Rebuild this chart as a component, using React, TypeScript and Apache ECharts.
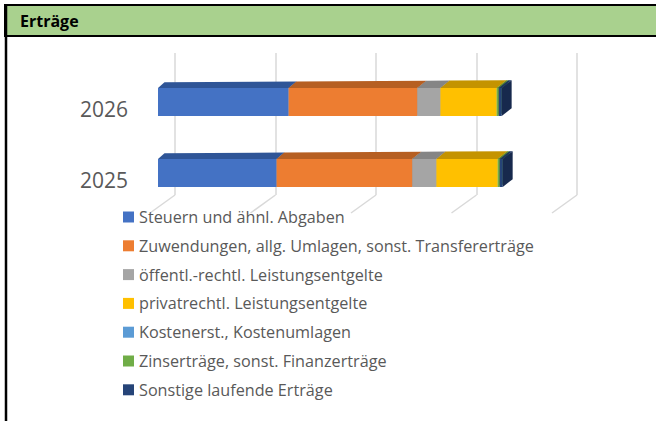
import React, { useEffect, useRef } from "react";
import * as echarts from "echarts";

// ---- data ----
const categories = ["2025", "2026"];
const seriesNames = [
  "Steuern und ähnl. Abgaben",
  "Zuwendungen, allg. Umlagen, sonst. Transfererträge",
  "öffentl.-rechtl. Leistungsentgelte",
  "privatrechtl. Leistungsentgelte",
  "Kostenerst., Kostenumlagen",
  "Zinserträge, sonst. Finanzerträge",
  "Sonstige laufende Erträge",
];
// values per category [2025, 2026] (Mio. €, estimated)
const steuern = [11.8, 13.0];
const zuwendungen = [13.5, 12.8];
const oeffentl = [2.4, 2.3];
const privat = [6.1, 5.6];
const kostenerst = [0, 0];
const zins = [0.2, 0.2];
const sonstige = [0.3, 0.3];
const axisTicks = [0, 10, 20, 30, 40];
const title = "Erträge";

const seriesValues = [steuern, zuwendungen, oeffentl, privat, kostenerst, zins, sonstige];

// ---- styles ----
const frontColors = ["#4472C4", "#ED7D31", "#A5A5A5", "#FFC000", "#5B9BD5", "#70AD47", "#264478"];
const topColors = ["#2F5597", "#B65F22", "#858585", "#C49300", "#4277A8", "#558A34", "#1C3461"];
const sideColors = ["#2A4E8C", "#A4551E", "#7A7A7A", "#B28500", "#3C6C98", "#4D7D2F", "#17294D"];
const gridColor = "#D9D9D9";
const textColor = "#595959";

export default function App() {
  const ref = useRef<HTMLDivElement>(null);

  useEffect(() => {
    if (!ref.current) return;
    const chart = echarts.init(ref.current, null, { renderer: "svg" });

    const BAR_H = 28;
    const depth = (x: number, left: number) => {
      const t = Math.max(0, x - left);
      return [6.5 + t * 0.01, 5.8 + t * 0.006];
    };

    const barSeries: any[] = seriesNames.map((name, i) => {
      const data = categories.map((_, j) => {
        let start = 0;
        for (let k = 0; k < i; k++) start += seriesValues[k][j];
        return [start, start + seriesValues[i][j], j];
      });
      return {
        type: "custom",
        name,
        xAxisIndex: 0,
        yAxisIndex: 0,
        z: 10 + i,
        itemStyle: { color: frontColors[i] },
        data,
        renderItem: (params: any, api: any) => {
          const s = api.value(0);
          const e = api.value(1);
          const c = api.value(2);
          if (e - s <= 0) return { type: "group", children: [] };
          const left = params.coordSys.x;
          const p0 = api.coord([s, c]);
          const p1 = api.coord([e, c]);
          const x0 = p0[0];
          const x1 = p1[0];
          const yT = p0[1] - BAR_H / 2;
          const yB = p0[1] + BAR_H / 2;
          const [dx0, dy0] = depth(x0, left);
          const [dx1, dy1] = depth(x1, left);
          return {
            type: "group",
            children: [
              {
                type: "polygon",
                shape: { points: [[x1, yT], [x1 + dx1, yT - dy1], [x1 + dx1, yB - dy1], [x1, yB]] },
                style: { fill: sideColors[i] },
              },
              {
                type: "rect",
                shape: { x: x0, y: yT, width: x1 - x0, height: BAR_H },
                style: { fill: frontColors[i] },
              },
              {
                type: "polygon",
                shape: { points: [[x0, yT], [x1, yT], [x1 + dx1, yT - dy1], [x0 + dx0, yT - dy0]] },
                style: { fill: topColors[i] },
              },
            ],
          };
        },
      };
    });

    const floorSeries = {
      type: "custom",
      xAxisIndex: 1,
      yAxisIndex: 1,
      z: 1,
      silent: true,
      data: axisTicks.map((v) => [v, 0]),
      renderItem: (_params: any, api: any) => {
        const p = api.coord([api.value(0), api.value(1)]);
        return {
          type: "line",
          shape: { x1: p[0], y1: p[1], x2: p[0] - 25, y2: p[1] + 18 },
          style: { stroke: gridColor, lineWidth: 1.5 },
        };
      },
    };

    chart.setOption({
      animation: false,
      backgroundColor: "#ffffff",
      textStyle: { fontFamily: "Open Sans" },
      grid: [
        { left: 158, width: 402, top: 66.5, height: 142 },
        { left: 175, width: 402, top: 53, height: 142 },
        { left: 158, width: 402, top: 73, height: 142 },
      ],
      xAxis: [
        { type: "value", gridIndex: 0, min: 0, max: 40, interval: 10, show: false },
        {
          type: "value",
          gridIndex: 1,
          min: 0,
          max: 40,
          interval: 10,
          axisLine: { show: false },
          axisTick: { show: false },
          axisLabel: { show: false },
          splitLine: { show: true, lineStyle: { color: gridColor, width: 1.5 } },
        },
        { type: "value", gridIndex: 2, min: 0, max: 40, interval: 10, show: false },
      ],
      yAxis: [
        {
          type: "category",
          gridIndex: 0,
          data: categories,
          show: false,
        },
        { type: "value", gridIndex: 1, min: 0, max: 1, show: false },
        {
          type: "category",
          gridIndex: 2,
          data: categories,
          axisLine: { show: false },
          axisTick: { show: false },
          splitLine: { show: false },
          axisLabel: {
            fontSize: 21,
            color: textColor,
            margin: 30,
            fontFamily: "Open Sans",
          },
        },
      ],
      legend: {
        orient: "vertical",
        left: 123,
        top: 208,
        padding: 0,
        icon: "rect",
        itemWidth: 11,
        itemHeight: 11,
        itemGap: 10.8,
        selectedMode: false,
        data: seriesNames,
        textStyle: { fontSize: 16.2, lineHeight: 18, color: textColor, fontFamily: "Open Sans" },
      },
      graphic: [
        {
          type: "rect",
          shape: { x: 5, y: 5, width: 660, height: 31 },
          style: { fill: "#A9D18E", stroke: "#000000", lineWidth: 2 },
          z: 100,
        },
        {
          type: "line",
          shape: { x1: 6, y1: 5, x2: 6, y2: 430 },
          style: { stroke: "#000000", lineWidth: 2.5 },
          z: 100,
        },
        {
          type: "text",
          x: 20,
          y: 21,
          style: {
            text: title,
            fill: "#000000",
            font: "bold 16px 'Open Sans'",
            verticalAlign: "middle",
          },
          z: 101,
        },
      ],
      series: [floorSeries, ...barSeries],
    });

    return () => chart.dispose();
  }, []);

  return (
    <div
      ref={ref}
      style={{ position: "fixed", left: 0, top: 0, width: 656, height: 421 }}
    />
  );
}
